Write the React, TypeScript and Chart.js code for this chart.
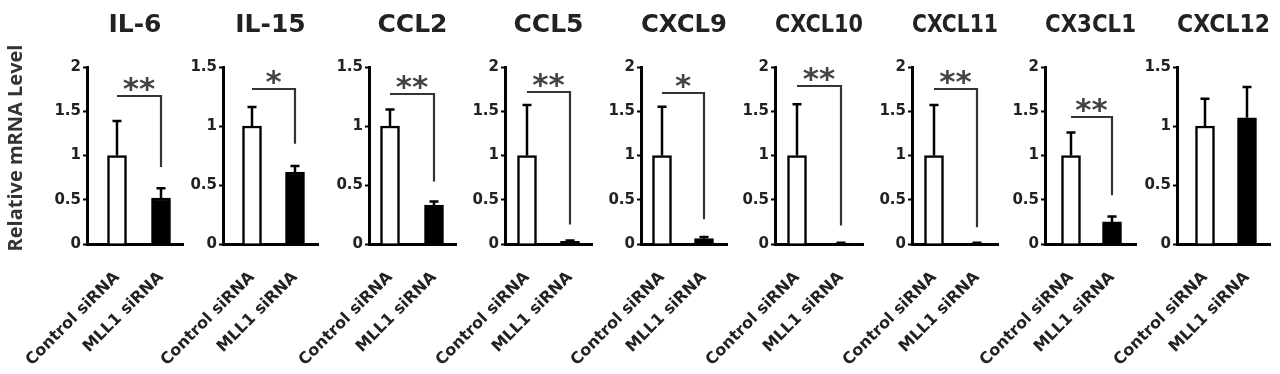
import React, { useEffect, useRef } from 'react';
import { Chart, registerables } from 'chart.js';

Chart.register(...registerables);

// ---------- data ----------
const genes = ['IL-6', 'IL-15', 'CCL2', 'CCL5', 'CXCL9', 'CXCL10', 'CXCL11', 'CX3CL1', 'CXCL12'];
const groups = ['Control siRNA', 'MLL1 siRNA'];
const controlMeans = [1, 1, 1, 1, 1, 1, 1, 1, 1];
const controlErrors = [0.39, 0.16, 0.14, 0.57, 0.55, 0.58, 0.57, 0.26, 0.23];
const mll1Means = [0.52, 0.61, 0.33, 0.03, 0.06, 0.01, 0.01, 0.25, 1.07];
const mll1Errors = [0.11, 0.05, 0.03, 0.01, 0.02, 0.005, 0.005, 0.06, 0.26];
const axisMax = [2, 1.5, 1.5, 2, 2, 2, 2, 2, 1.5];
const significance = ['**', '*', '**', '**', '*', '**', '**', '**', ''];
const bracketTop = [1.67, 1.31, 1.27, 1.72, 1.71, 1.78, 1.75, 1.43, 0];
const bracketEnd = [0.87, 0.85, 0.53, 0.22, 0.28, 0.21, 0.19, 0.55, 0];
const yAxisTitle = 'Relative mRNA Level';

// ---------- layout (pixels) ----------
const plotLefts = [87, 223, 369, 505, 641, 775, 912, 1045, 1177];
const plotRights = [183, 318, 456, 592, 727, 863, 998, 1136, 1270];
const firstBarCenters = [117, 252, 390, 527, 662, 797, 934, 1071, 1205];
const secondBarCenters = [161, 295, 434, 570, 704, 841, 977, 1112, 1247];
const PLOT_TOP = 67;
const PLOT_BOTTOM = 244;
const H = 374;
const FONT = "'DejaVu Sans', sans-serif";

function Panel({ i }: { i: number }) {
  const ref = useRef<HTMLCanvasElement>(null);
  const first = i === 0;
  const axisLeft = plotLefts[i];
  const canvasLeft = first ? 0 : axisLeft - 120;
  const yAxisW = first ? axisLeft : 45;
  const padLeft = first ? 0 : 120 - 45;
  const padRight = 4;
  const width = plotRights[i] + padRight - canvasLeft;

  useEffect(() => {
    const gap = secondBarCenters[i] - firstBarCenters[i];
    const xMin = -(firstBarCenters[i] - axisLeft) / gap;
    const xMax = (plotRights[i] - firstBarCenters[i]) / gap;

    const annot = {
      id: 'annot' + i,
      afterDatasetsDraw(chart: any) {
        const { ctx } = chart;
        const x = chart.scales.x;
        const y = chart.scales.y;
        ctx.save();
        // error bars (upper only)
        const means = [controlMeans[i], mll1Means[i]];
        const errs = [controlErrors[i], mll1Errors[i]];
        ctx.strokeStyle = '#000';
        ctx.lineWidth = 2.5;
        for (let k = 0; k < 2; k++) {
          const px = Math.round(x.getPixelForValue(k));
          const y0 = y.getPixelForValue(means[k]);
          const y1 = y.getPixelForValue(means[k] + errs[k]);
          ctx.beginPath();
          ctx.moveTo(px, y0);
          ctx.lineTo(px, y1);
          ctx.moveTo(px - 4.5, y1);
          ctx.lineTo(px + 4.5, y1);
          ctx.stroke();
        }
        // significance bracket
        if (significance[i]) {
          const xa = Math.round(x.getPixelForValue(0));
          const xb = Math.round(x.getPixelForValue(1));
          const yt = Math.round(y.getPixelForValue(bracketTop[i]));
          const ye = y.getPixelForValue(bracketEnd[i]);
          ctx.strokeStyle = '#333';
          ctx.lineWidth = 2.2;
          ctx.beginPath();
          ctx.moveTo(xa, yt);
          ctx.lineTo(xb, yt);
          ctx.lineTo(xb, ye);
          ctx.stroke();
          ctx.fillStyle = '#444';
          ctx.font = `bold 31px ${FONT}`;
          ctx.textAlign = 'center';
          ctx.textBaseline = 'alphabetic';
          ctx.fillText(significance[i], (xa + xb) / 2, yt + 3);
        }
        if (first) {
          ctx.translate(16, 148);
          ctx.rotate(-Math.PI / 2);
          ctx.fillStyle = '#333';
          ctx.font = `bold 20px 'Open Sans', sans-serif`;
          ctx.textAlign = 'center';
          ctx.textBaseline = 'middle';
          ctx.fillText(yAxisTitle, 0, 0);
        }
        ctx.restore();
      },
    };

    const chart = new Chart(ref.current as HTMLCanvasElement, {
      type: 'bar',
      data: {
        datasets: [
          {
            data: [
              { x: 0, y: controlMeans[i] },
              { x: 1, y: mll1Means[i] },
            ] as any,
            backgroundColor: ['#ffffff', '#000000'],
            borderColor: '#000000',
            borderWidth: 2.5,
            barThickness: 19,
          },
        ],
      },
      options: {
        animation: false,
        responsive: false,
        devicePixelRatio: 1,
        events: [],
        layout: { padding: { left: padLeft, right: padRight, top: 0, bottom: 0 } },
        plugins: {
          legend: { display: false },
          tooltip: { enabled: false },
          title: {
            display: true,
            text: genes[i],
            fullSize: false,
            color: '#222',
            font: { family: FONT, size: 25, weight: 'bold' },
            padding: { top: 10, bottom: PLOT_TOP - 10 - 30 },
          },
        },
        scales: {
          x: {
            type: 'linear',
            min: xMin,
            max: xMax,
            offset: false,
            grid: { display: false, drawTicks: false },
            border: { display: true, color: '#000', width: 3 },
            afterBuildTicks: (scale: any) => {
              scale.ticks = [{ value: 0 }, { value: 1 }];
            },
            afterFit: (scale: any) => {
              scale.height = H - PLOT_BOTTOM;
              scale.paddingLeft = 0;
              scale.paddingRight = 0;
            },
            ticks: {
              autoSkip: false,
              minRotation: 45,
              maxRotation: 45,
              padding: 24,
              color: '#222',
              font: { family: FONT, size: 16, weight: 'bold' },
              callback: (v: any) => groups[Math.round(Number(v))],
            },
          },
          y: {
            min: 0,
            max: axisMax[i],
            grid: {
              display: true,
              drawOnChartArea: false,
              drawTicks: true,
              tickLength: 4,
              tickWidth: 2,
              tickColor: '#000',
            },
            border: { display: true, color: '#000', width: 3 },
            afterFit: (scale: any) => {
              scale.width = yAxisW;
            },
            ticks: {
              stepSize: 0.5,
              padding: 2,
              color: '#222',
              font: { family: FONT, size: 15, weight: 'bold' },
              callback: (v: any) => String(Number(v)),
            },
          },
        },
      } as any,
      plugins: [annot],
    });
    return () => chart.destroy();
  }, [i]);

  return (
    <canvas
      ref={ref}
      width={width}
      height={H}
      style={{ position: 'absolute', left: canvasLeft, top: 0, width, height: H }}
    />
  );
}

export default function App() {
  return (
    <div style={{ position: 'absolute', left: 0, top: 0, width: 1280, height: H, background: '#fff', overflow: 'hidden' }}>
      {genes.map((_, i) => (
        <Panel key={i} i={i} />
      ))}
    </div>
  );
}
